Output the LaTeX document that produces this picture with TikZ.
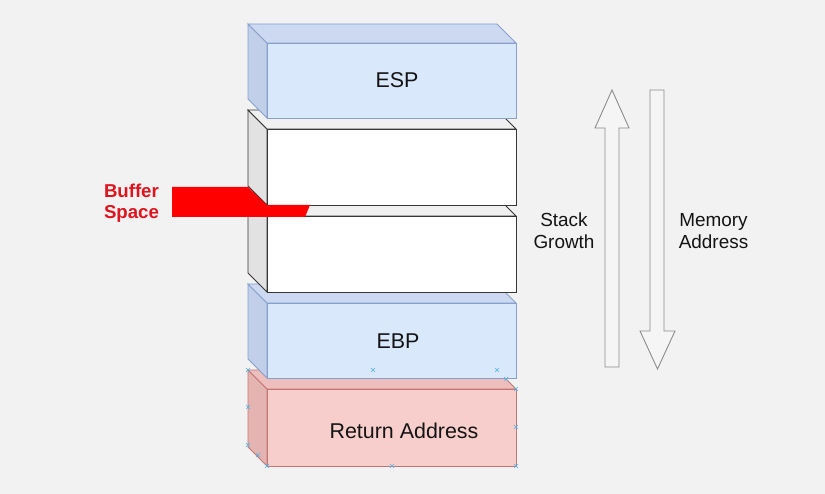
\documentclass[tikz,border=0pt]{standalone}
\usepackage{fontspec}
\setmainfont{Liberation Sans}
\definecolor{bgc}{RGB}{242,242,242}
\definecolor{bluefront}{RGB}{218,232,252}
\definecolor{bluetop}{RGB}{204,217,240}
\definecolor{blueleft}{RGB}{193,207,232}
\definecolor{bluestroke}{RGB}{136,160,206}
\definecolor{redfront}{RGB}{248,206,204}
\definecolor{redtop}{RGB}{238,190,188}
\definecolor{redleft}{RGB}{228,180,178}
\definecolor{redstroke}{RGB}{196,118,115}
\definecolor{whitetop}{RGB}{240,240,240}
\definecolor{whiteleft}{RGB}{226,226,226}
\definecolor{whitestroke}{RGB}{55,55,55}
\definecolor{bufred}{RGB}{255,0,0}
\definecolor{buftext}{RGB}{222,20,30}
\definecolor{arrowfill}{RGB}{245,245,245}
\definecolor{arrowstroke}{RGB}{140,140,140}
\definecolor{handle}{RGB}{80,180,230}
\definecolor{txt}{RGB}{20,20,20}
\newcommand\stackcube[6]{%
  \filldraw[fill=#5,draw=#6,cubeline] (248,#1-19) -- (267,#1) -- (267,#2) -- (248,#2-19) -- cycle;
  \filldraw[fill=#4,draw=#6,cubeline] (248,#1-19) -- (497,#1-19) -- (516,#1) -- (267,#1) -- cycle;
  \filldraw[fill=#3,draw=#6,cubeline] (267,#1) rectangle (516,#2);
}
\newcommand\handlemark[2]{%
  \draw[handlestyle] (#1-2,#2-2) -- (#1+2,#2+2) (#1-2,#2+2) -- (#1+2,#2-2);
}
\begin{document}
\begin{tikzpicture}[x=1bp,y=-1bp,
  cubeline/.style={line width=0.9bp, line join=miter},
  boxlabel/.style={font=\fontsize{21.5}{25}\selectfont, text=txt, inner sep=0pt},
  sidelabel/.style={font=\fontsize{19}{22.3}\selectfont, text=txt, align=center, inner sep=0pt},
  buflabel/.style={font=\fontsize{18.7}{21}\selectfont\bfseries, text=buftext, align=left, inner sep=0pt},
  bigarrow/.style={fill=arrowfill, draw=arrowstroke, line width=0.9bp, line join=miter},
  handlestyle/.style={draw=handle, line width=0.6bp}]
\fill[bgc] (0,0) rectangle (825,494);
\useasboundingbox (0,0) rectangle (825,494);
% stack cubes, bottom to top
\stackcube{389}{466}{redfront}{redtop}{redleft}{redstroke}
\stackcube{303}{378}{bluefront}{bluetop}{blueleft}{bluestroke}
\stackcube{216}{292}{white}{whitetop}{whiteleft}{whitestroke}
\stackcube{129}{205}{white}{whitetop}{whiteleft}{whitestroke}
\stackcube{43}{118}{bluefront}{bluetop}{blueleft}{bluestroke}
% buffer overflow marker
\fill[bufred] (172,187) -- (248,187) -- (267,205) -- (310,205) -- (305,217) -- (172,217) -- cycle;
% labels
\node[boxlabel] (esp) at (397,80) {ESP};
\node[boxlabel] (ebp) at (398,341) {EBP};
\node[boxlabel] (ret) at (404,431) {Return Address};
\node[buflabel, anchor=west] (buf) at (103.8,203.5) {Buffer\\Space};
\node[sidelabel] (sg) at (564,231) {Stack\\Growth};
\node[sidelabel] (ma) at (713.5,231) {Memory\\Address};
% arrows
\filldraw[bigarrow] (612,90) -- (629,128) -- (619,128) -- (619,367) -- (605,367) -- (605,128) -- (595,128) -- cycle;
\filldraw[bigarrow] (650,90) -- (664,90) -- (664,331) -- (675,331) -- (657.5,369) -- (640,331) -- (650,331) -- cycle;
% selection handles
\handlemark{373}{370}
\handlemark{497}{370}
\handlemark{248}{370}
\handlemark{248}{407}
\handlemark{248}{445}
\handlemark{258}{455}
\handlemark{267}{466}
\handlemark{392}{466}
\handlemark{516}{466}
\handlemark{516}{427}
\handlemark{516}{389}
\handlemark{506}{379}
\end{tikzpicture}
\end{document}
